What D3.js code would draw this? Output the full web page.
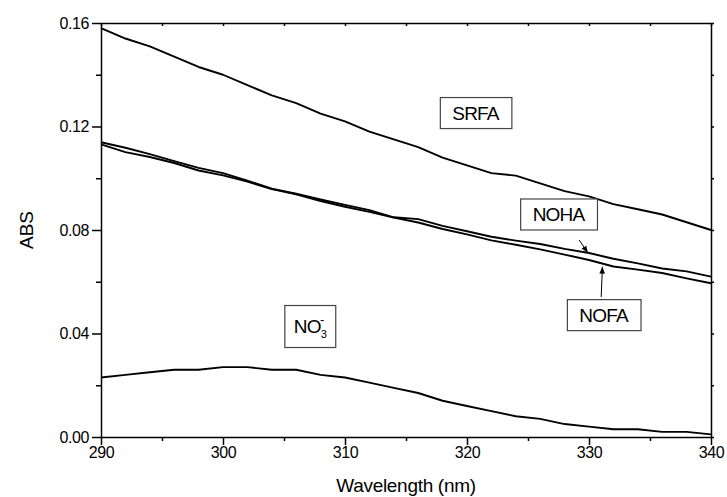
<!DOCTYPE html>
<html>
<head>
<meta charset="utf-8">
<script src="https://cdn.jsdelivr.net/npm/d3@7"></script>
<style>
  body { margin: 0; background: #fff; }
  svg { display: block; font-family: Arial, 'Liberation Sans', sans-serif; }
</style>
</head>
<body>
<script>
// wavelengths every 2 nm
let wavelength = [290, 292, 294, 296, 298, 300, 302, 304, 306, 308, 310, 312, 314,
    316, 318, 320, 322, 324, 326, 328, 330, 332, 334, 336, 338, 340]
let srfa = [0.158, 0.154, 0.151, 0.147, 0.143, 0.140, 0.136, 0.132, 0.129, 0.125, 0.122, 0.118, 0.115,
    0.112, 0.108, 0.105, 0.102, 0.101, 0.098, 0.095, 0.093, 0.090, 0.088, 0.086, 0.083, 0.080]
let noha = [0.1139, 0.1118, 0.1093, 0.1066, 0.1040, 0.1020, 0.0991, 0.0960, 0.0940, 0.0918, 0.0897, 0.0877, 0.0849,
    0.0842, 0.0816, 0.0795, 0.0774, 0.0759, 0.0746, 0.0727, 0.0711, 0.0689, 0.0671, 0.0651, 0.0640, 0.0620]
let nofa = [0.1131, 0.1101, 0.1082, 0.1059, 0.1030, 0.1011, 0.0987, 0.0958, 0.0938, 0.0912, 0.0890, 0.0870, 0.0848,
    0.0829, 0.0804, 0.0783, 0.0760, 0.0743, 0.0725, 0.0705, 0.0684, 0.0659, 0.0647, 0.0634, 0.0613, 0.0594]
let no3 = [0.023, 0.024, 0.025, 0.026, 0.026, 0.027, 0.027, 0.026, 0.026, 0.024, 0.023, 0.021, 0.019,
    0.017, 0.014, 0.012, 0.010, 0.008, 0.007, 0.005, 0.004, 0.003, 0.003, 0.002, 0.002, 0.001]

let xTicks = [290, 300, 310, 320, 330, 340]
let xMinor = [295, 305, 315, 325, 335]
let yTicks = [0, 0.04, 0.08, 0.12, 0.16]
let yMinor = [0.02, 0.06, 0.10, 0.14]

let width = 727, height = 497
let margin = { top: 23, right: 16, bottom: 60, left: 101 }

let svg = d3.select('body').append('svg')
    .attr('width', width).attr('height', height)

let x = d3.scaleLinear().domain([290, 340]).range([margin.left, width - margin.right])
let y = d3.scaleLinear().domain([0, 0.16]).range([height - margin.bottom, margin.top])

// bottom axis
svg.append('g')
    .attr('transform', `translate(0, ${y(0)})`)
    .call(d3.axisBottom(x).tickValues(xTicks).tickFormat(d3.format('d')).tickSize(8).tickPadding(2).tickSizeOuter(0))
    .call(g => g.selectAll('text').attr('font-size', 16).attr('font-family', null).attr('letter-spacing', -0.4))
svg.append('g')
    .attr('transform', `translate(0, ${y(0)})`)
    .call(d3.axisBottom(x).tickValues(xMinor).tickFormat('').tickSize(4).tickSizeOuter(0))
    .call(g => g.select('.domain').remove())

// left axis
svg.append('g')
    .attr('transform', `translate(${x(290)}, 0)`)
    .call(d3.axisLeft(y).tickValues(yTicks).tickFormat(d3.format('.2f')).tickSize(9).tickPadding(3).tickSizeOuter(0))
    .call(g => g.selectAll('text').attr('font-size', 16).attr('font-family', null).attr('letter-spacing', -0.4))
svg.append('g')
    .attr('transform', `translate(${x(290)}, 0)`)
    .call(d3.axisLeft(y).tickValues(yMinor).tickFormat('').tickSize(5).tickSizeOuter(0))
    .call(g => g.select('.domain').remove())

// top and right axes, small ticks only
svg.append('g')
    .attr('transform', `translate(0, ${y(0.16)})`)
    .call(d3.axisTop(x).tickValues(xTicks.concat(xMinor)).tickFormat('').tickSize(-3).tickSizeOuter(0))
svg.append('g')
    .attr('transform', `translate(${x(340)}, 0)`)
    .call(d3.axisRight(y).tickValues(yTicks.concat(yMinor)).tickFormat('').tickSize(3).tickSizeOuter(0))

svg.selectAll('.domain, .tick line').attr('stroke', '#000').attr('stroke-width', 1.5)

// axis titles
svg.append('text')
    .attr('x', (x(290) + x(340)) / 2)
    .attr('y', 492)
    .attr('text-anchor', 'middle')
    .attr('font-size', 19)
    .attr('letter-spacing', -0.3)
    .text('Wavelength (nm)')
svg.append('text')
    .attr('transform', `translate(33, ${(y(0) + y(0.16)) / 2}) rotate(-90)`)
    .attr('text-anchor', 'middle')
    .attr('font-size', 19)
    .text('ABS')

// curves
let line = d3.line()
    .x((d, i) => x(wavelength[i]))
    .y(d => y(d))
let series = [srfa, noha, nofa, no3]
svg.append('g').selectAll('path')
    .data(series)
    .join('path')
    .attr('d', line)
    .attr('fill', 'none')
    .attr('stroke', '#000')
    .attr('stroke-width', 1.9)
    .attr('stroke-linejoin', 'round')

// labels (positions in data units)
let labels = [
    { text: 'SRFA', w: 320.7, v: 0.1252 },
    { text: 'NOHA', w: 327.5, v: 0.0860 },
    { text: 'NOFA', w: 331.2, v: 0.0471 },
    { text: 'NO', sub: '3', sup: '-', w: 307.2, v: 0.0427 }
]
labels.forEach(l => {
    let g = svg.append('g')
    let t = g.append('text')
        .attr('x', x(l.w))
        .attr('y', y(l.v))
        .attr('dy', '0.36em')
        .attr('font-size', 19)
        .attr('letter-spacing', -0.8)
        .attr('text-anchor', 'middle')
    t.append('tspan').text(l.text)
    if (l.sub) {
        t.attr('text-anchor', null).attr('x', x(l.w) - 17)
        t.append('tspan').attr('font-size', 11).attr('dy', '0.45em').text(l.sub)
        t.append('tspan').attr('font-size', 13).attr('dx', -6).attr('dy', '-1.1em').text(l.sup)
    }
    let b = t.node().getBBox()
    let padX = l.sub ? 9 : 12
    let h = l.sub ? 42 : 31
    let cy = y(l.v)
    g.insert('rect', 'text')
        .attr('x', b.x - padX)
        .attr('y', cy - h / 2)
        .attr('width', b.width + padX * 2)
        .attr('height', h)
        .attr('fill', '#fff')
        .attr('stroke', '#444')
        .attr('stroke-width', 1.2)
})

// arrows
svg.append('defs').append('marker')
    .attr('id', 'head')
    .attr('viewBox', '0 0 10 10')
    .attr('refX', 10).attr('refY', 5)
    .attr('markerWidth', 7).attr('markerHeight', 7)
    .attr('markerUnits', 'userSpaceOnUse')
    .attr('orient', 'auto')
    .append('path')
    .attr('d', 'M0,1 L10,5 L0,9 Z')
    .attr('fill', '#000')
let arrows = [
    { w0: 329.2, v0: 0.0761, w1: 329.9, v1: 0.0712 },
    { w0: 331.0, v0: 0.0541, w1: 331.1, v1: 0.0658 }
]
svg.append('g').selectAll('line')
    .data(arrows)
    .join('line')
    .attr('x1', d => x(d.w0)).attr('y1', d => y(d.v0))
    .attr('x2', d => x(d.w1)).attr('y2', d => y(d.v1))
    .attr('stroke', '#000')
    .attr('stroke-width', 1)
    .attr('marker-end', 'url(#head)')
</script>
</body>
</html>
